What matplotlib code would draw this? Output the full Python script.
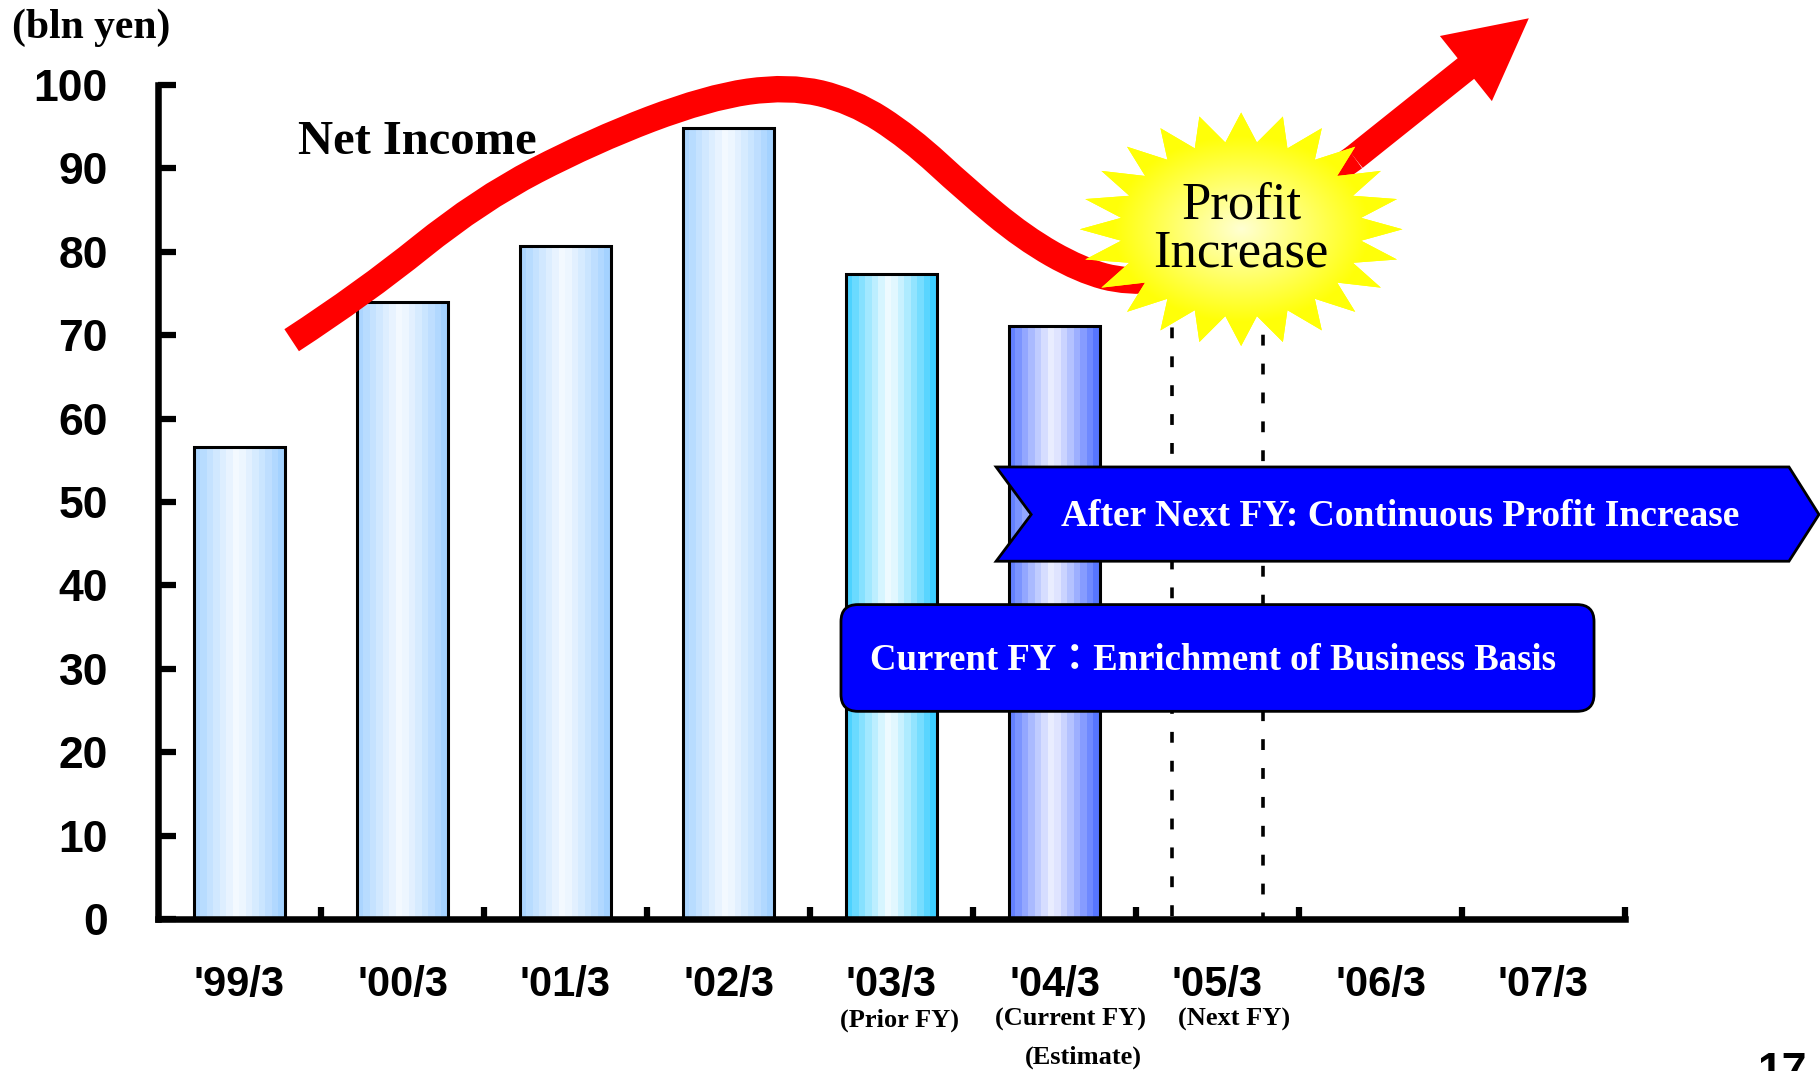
import numpy as np
import matplotlib.pyplot as plt
from matplotlib.patches import Polygon, FancyBboxPatch, PathPatch, FancyArrowPatch, ArrowStyle
from matplotlib.path import Path
from matplotlib.colors import to_rgb

# ---- data ----
years = ["'99/3", "'00/3", "'01/3", "'02/3", "'03/3", "'04/3", "'05/3", "'06/3", "'07/3"]
net_income = [56.6, 74.0, 80.7, 94.9, 77.3, 71.1]
next_fy_outline = 80          # '05/3 dotted outline bar (top hidden by the star)
edge_cols = ['#9ECFFF', '#9ECFFF', '#9ECFFF', '#9ECFFF', '#2ECBFF', '#4A6CFF']
mid_cols = ['#F5FAFF', '#F5FAFF', '#F5FAFF', '#F5FAFF', '#F2FCFF', '#EDF0FF']

sub_text = ['(Prior FY)', '(Current FY)', '(Next FY)', '(Estimate)']
sub_x = [4.05, 5.10, 6.10, 5.18]
sub_y = [-12.1, -12.1, -12.1, -16.6]

# red "net income" swoosh (category units, bln yen)
swoosh_x = [0.32, 0.76, 1.47, 2.17, 2.87, 3.37, 3.76, 4.11, 4.46, 4.81, 5.16, 5.45, 5.8, 6.25, 6.84]
swoosh_y = [69.4, 75.0, 86.2, 93.3, 98.5, 99.9, 98.1, 93.7, 87.4, 81.7, 77.8, 76.3, 77.0, 83.0, 91.3]
arrow_tip = (7.91, 108.0)

star_c = (6.145, 82.7)
star_r = (0.99, 14.0)

sans = ['Liberation Sans', 'DejaVu Sans']
serif = ['Liberation Serif', 'Noto Sans CJK JP', 'DejaVu Serif']

fig = plt.figure(figsize=(18.2, 10.71), dpi=100)
ax = fig.add_axes([158/1820, 152/1071, 1467/1820, 834/1071])

W = 0.556
x = np.arange(len(net_income))
bars = ax.bar(x, net_income, width=W, facecolor='none', edgecolor='black', lw=2.2, zorder=3)
t = (np.arange(14) + 0.5) / 14
s = np.clip(np.abs(t - 0.48) / 0.52, 0, 1) ** 1.1
for b, ec, mc in zip(bars, edge_cols, mid_cols):
    e, m = np.array(to_rgb(ec)), np.array(to_rgb(mc))
    grad = (m[None, :] * (1 - s[:, None]) + e[None, :] * s[:, None])[None, :, :]
    bx, bh = b.get_x(), b.get_height()
    im = ax.imshow(grad, extent=[bx, bx + W, 0, bh], aspect='auto',
                   interpolation='nearest', zorder=2)
    im.set_clip_path(b)

# dotted outline for next FY
ax.bar([6], [next_fy_outline], width=W, facecolor='none', edgecolor='black',
       lw=2.6, linestyle=(0, (3.0, 5.0)), zorder=2)

# swoosh as smooth quadratic path through midpoints
P = list(zip(swoosh_x, swoosh_y))
verts = [P[0]]
codes = [Path.MOVETO]
for i in range(1, len(P) - 1):
    mid = ((P[i][0] + P[i + 1][0]) / 2, (P[i][1] + P[i + 1][1]) / 2)
    verts += [P[i], mid]
    codes += [Path.CURVE3, Path.CURVE3]
verts.append(P[-1])
codes.append(Path.LINETO)
ax.add_patch(PathPatch(Path(verts, codes), fill=False, edgecolor='#FF0000', lw=19,
                       capstyle='butt', joinstyle='round', zorder=4, clip_on=False))
ax.add_patch(FancyArrowPatch(P[-1], arrow_tip,
                             arrowstyle=ArrowStyle('Simple', head_length=58, head_width=60, tail_width=19),
                             mutation_scale=1, color='#FF0000', lw=0, shrinkA=0, shrinkB=0,
                             zorder=4, clip_on=False))

# starburst with radial yellow gradient
ang = np.deg2rad(90 + np.arange(48) * 7.5)
rad = np.where(np.arange(48) % 2 == 0, 1.0, 0.75)
sx = star_c[0] + star_r[0] * rad * np.cos(ang)
sy = star_c[1] + star_r[1] * rad * np.sin(ang)
star = Polygon(np.column_stack([sx, sy]), closed=True, facecolor='#FFFF00', edgecolor='none',
               zorder=5)
ax.add_patch(star)
gu, gv = np.meshgrid(np.linspace(-1, 1, 200), np.linspace(-1, 1, 200))
d = np.clip(np.sqrt(gu**2 + gv**2) / 0.8, 0, 1)
c0, c1 = np.array(to_rgb('#FFFFD2')), np.array(to_rgb('#FFFF08'))
simg = c0 * (1 - d[..., None]) + c1 * d[..., None]
sim = ax.imshow(simg, extent=[star_c[0] - star_r[0], star_c[0] + star_r[0],
                              star_c[1] - star_r[1], star_c[1] + star_r[1]],
                aspect='auto', zorder=5)
sim.set_clip_path(star)
ax.text(star_c[0], star_c[1], 'Profit\nIncrease', ha='center', va='center', fontsize=38,
        family=serif, linespacing=1.0, zorder=6)

# banners
chev = Polygon([(4.642, 54.2), (9.506, 54.2), (9.690, 48.5), (9.506, 42.9), (4.642, 42.9), (4.857, 48.5)],
               closed=True, facecolor='#0000FF', edgecolor='black', lw=2, zorder=7, clip_on=False)
ax.add_patch(chev)
ax.text(7.12, 48.3, 'After Next FY: Continuous Profit Increase', ha='center', va='center',
        color='white', fontsize=27, fontweight='bold', family=serif, zorder=8)
box = FancyBboxPatch((3.69, 24.9), 8.31 - 3.69, 37.7 - 24.9,
                     boxstyle='round,pad=0,rounding_size=0.104', mutation_aspect=19.6,
                     facecolor='#0000FF', edgecolor='black', lw=2, zorder=7, clip_on=False)
ax.add_patch(box)
ax.text(5.975, 31.0, 'Current FY：Enrichment of Business Basis', ha='center', va='center',
        color='white', fontsize=26.5, fontweight='bold', family=serif, zorder=8)

ax.text(0.36, 93.2, 'Net Income', ha='left', va='center', fontsize=35, fontweight='bold',
        family=serif, zorder=6)

# axes styling
ax.set_xlim(-0.5, 8.5)
ax.set_ylim(0, 100)
ax.spines['top'].set_visible(False)
ax.spines['right'].set_visible(False)
for sp in ['left', 'bottom']:
    ax.spines[sp].set_linewidth(4.7)
    ax.spines[sp].set_capstyle('projecting')
ax.set_yticks(range(0, 101, 10))
ax.set_xticks(range(len(years)))
ax.set_xticklabels(years)
ax.set_xticks(np.arange(0.5, 9, 1), minor=True)
ax.tick_params(axis='y', direction='in', length=13, width=4.5, pad=36)
ax.tick_params(axis='x', which='major', length=0, pad=33)
ax.tick_params(axis='x', which='minor', direction='in', length=9, width=4.5)
for lab in ax.get_yticklabels():
    lab.set_family(sans)
    lab.set_fontweight('bold')
    lab.set_fontsize(32)
for lab in ax.get_xticklabels():
    lab.set_family(sans)
    lab.set_fontweight('bold')
    lab.set_fontsize(30)

for txt, xx, yy in zip(sub_text, sub_x, sub_y):
    ax.text(xx, yy, txt, ha='center', va='center', fontsize=19, fontweight='bold',
            family=serif, clip_on=False)

fig.text(12/1820, 1 - 28/1071, '(bln yen)', ha='left', va='center', fontsize=30,
         fontweight='bold', family=serif)
fig.text(1782/1820, 1 - 1052/1071, '17', ha='center', va='top', fontsize=32,
         fontweight='bold', family=sans)

fig.savefig('out.png', dpi=100)
